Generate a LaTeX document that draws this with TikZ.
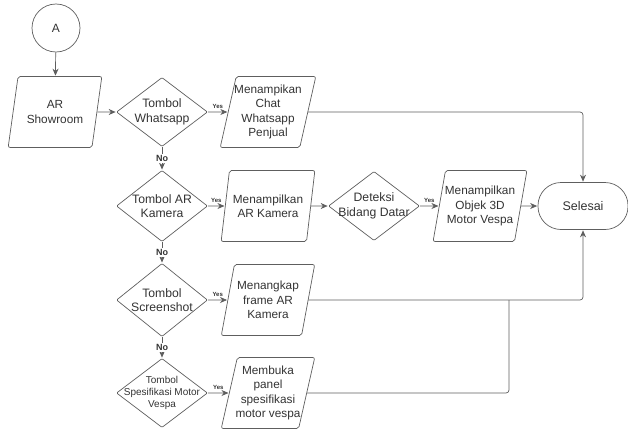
\documentclass[tikz,border=0pt]{standalone}
\usepackage{fontspec}
\setmainfont{Liberation Sans}
\usepackage{tikz}
\usetikzlibrary{arrows.meta, shapes.geometric, positioning}
\definecolor{linegray}{HTML}{5E5E5E}
\definecolor{textgray}{HTML}{333333}

\begin{document}
\begin{tikzpicture}[x=1pt, y=-1pt,
			>={Stealth[length=7pt, width=6pt]},
			line width=0.7pt,
			every node/.style={text=textgray},
			io/.style={trapezium, trapezium left angle=74, trapezium right angle=106,
				trapezium stretches=true, draw=linegray, rounded corners=2pt,
				minimum width=94pt, minimum height=71pt, inner xsep=-2pt, inner ysep=1pt,
				align=center, font=\fontsize{11.8pt}{14.3pt}\selectfont},
			decision/.style={diamond, draw=linegray, rounded corners=1pt,
				minimum width=91pt, minimum height=69pt, inner sep=-3pt,
				align=center, font=\fontsize{12.2pt}{14.5pt}\selectfont},
			yes/.style={above, font=\fontsize{6pt}{7pt}\selectfont\bfseries, inner sep=3pt},
			no/.style={fill=white, font=\fontsize{9pt}{10pt}\selectfont\bfseries, inner sep=1pt},
			flow/.style={->, draw=linegray, shorten >=0.5pt}]
			
			\useasboundingbox (0,0) rectangle (628,431);
			
			% start
			\node[circle, draw=linegray, minimum size=48pt, font=\fontsize{12pt}{14pt}\selectfont] (a) at (56,28) {A};
			\node[io] (showroom) at (55,112) {AR\\Showroom};
			
			% tombol
			\node[decision] (wa) at (162,112) {Tombol\\Whatsapp};
			\node[decision] (ark) at (162,206) {Tombol AR\\Kamera};
			\node[decision] (ss) at (162,300) {Tombol\\Screenshot};
			\node[decision, inner sep=-14pt, font=\fontsize{10pt}{12pt}\selectfont] (spek) at (162,393) {Tombol\\Spesifikasi Motor\\Vespa};
			
			% proses
			\node[io] (chat) at (268,112) {Menampikan\\Chat\\Whatsapp\\Penjual};
			\node[io] (arcam) at (268,206) {Menampilkan\\AR Kamera};
			\node[decision, inner sep=-7pt] (deteksi) at (374,206) {Deteksi\\Bidang Datar};
			\node[io] (objek) at (480,206) {Menampilkan\\Objek 3D\\Motor Vespa};
			\node[io] (tangkap) at (268,300) {Menangkap\\frame AR\\Kamera};
			\node[io] (panel) at (268,393) {Membuka\\panel\\spesifikasi\\motor vespa};
			
			% selesai
			\node[draw=linegray, rounded corners=23pt, minimum width=90pt, minimum height=47pt,
				font=\fontsize{12.5pt}{14pt}\selectfont] (selesai) at (583,206) {Selesai};
			\coordinate (join) at (509,300);
			
			\draw[flow] (a) -- (showroom);
			\draw[flow] (showroom) -- (wa);
			\draw[flow] (wa) -- node[yes] {Yes} (chat);
			\draw[flow] (wa) -- node[no] {No} (ark);
			\draw[flow] (ark) -- node[yes] {Yes} (arcam);
			\draw[flow] (arcam) -- (deteksi);
			\draw[flow] (deteksi) -- node[yes] {Yes} (objek);
			\draw[flow] (objek) -- (selesai);
			\draw[flow] (ark) -- node[no] {No} (ss);
			\draw[flow] (ss) -- node[yes] {Yes} (tangkap);
			\draw[flow] (ss) -- node[no] {No} (spek);
			\draw[flow] (spek) -- node[yes] {Yes} (panel);
			\draw[flow, rounded corners=3pt] (chat.east) -| (selesai.north);
			\draw[flow, rounded corners=3pt] (tangkap.east) -| (selesai.south);
			\draw[draw=linegray, rounded corners=3pt] (panel.east) -| (join);
		\end{tikzpicture}
\end{document}
